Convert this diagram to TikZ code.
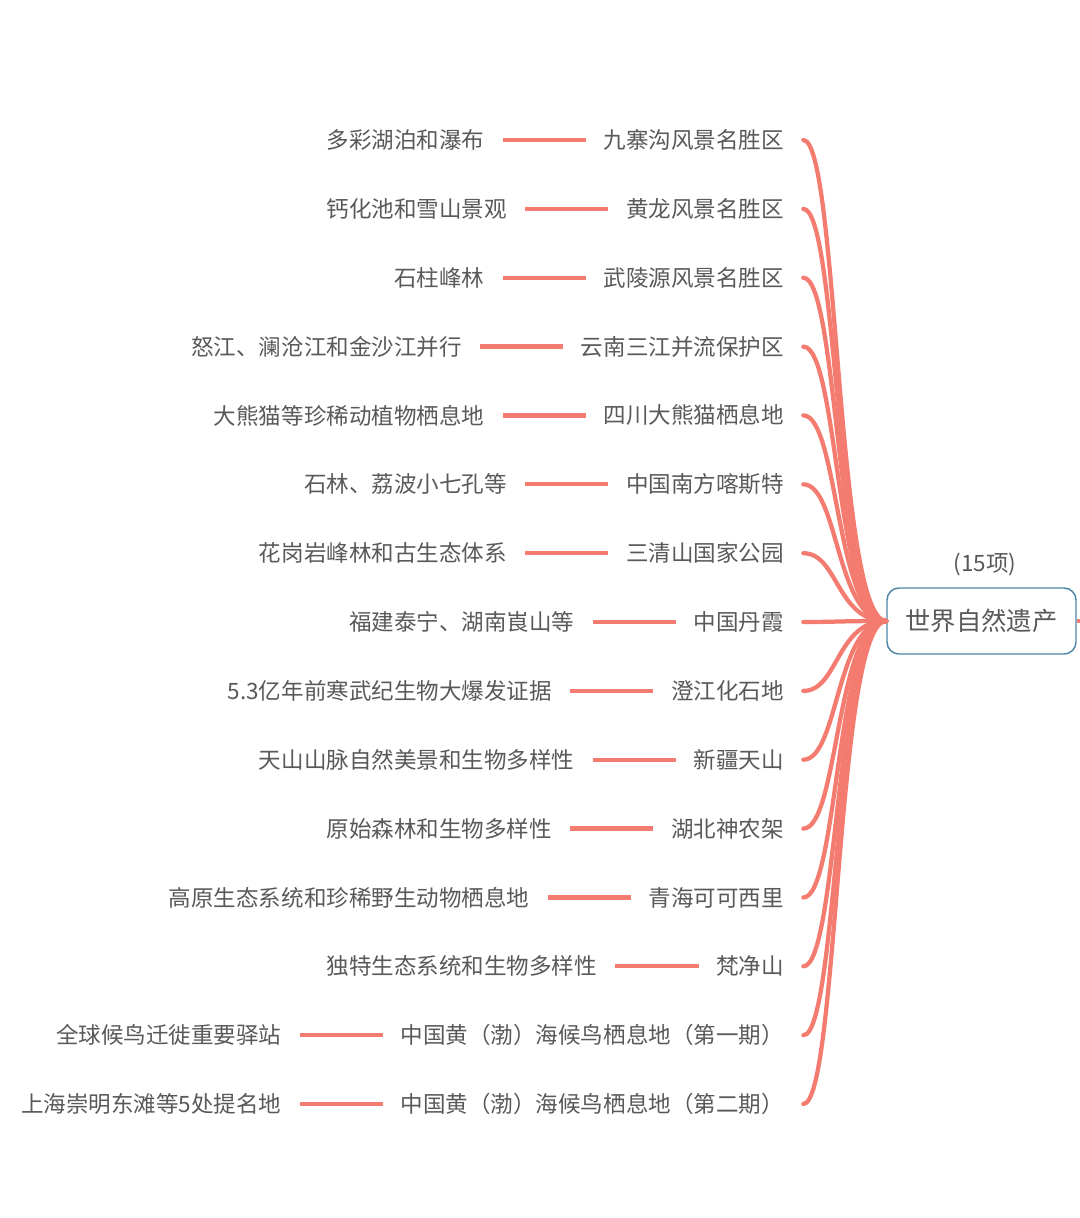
\documentclass[tikz,border=0pt]{standalone}
\usepackage{fontspec}
\setmainfont{Noto Sans CJK SC}
\usetikzlibrary{positioning}
\definecolor{linec}{HTML}{F47B6F}
\definecolor{txt}{HTML}{595959}
\definecolor{rootc}{HTML}{4F86A6}
\begin{document}
\begin{tikzpicture}[x=0.75pt,y=-0.75pt,
  lab/.style={font=\fontsize{16.9pt}{18pt}\selectfont, text=txt, inner sep=0pt},
  seg/.style={draw=linec, line width=3.2pt, shorten <=13.5pt, shorten >=13pt},
  br/.style={draw=linec, line width=3.2pt, line cap=round},
  rootbox/.style={draw=rootc, line width=1.1pt, fill=white, rounded corners=9pt,
    minimum width=141.75pt, minimum height=49.5pt, text=txt,
    font=\fontsize{19pt}{22pt}\selectfont}]
\fill[white] (0,0) rectangle (1080,1218);
\useasboundingbox (0,0) rectangle (1080,1218);

\node[rootbox] (root) at (981.5,621) {世界自然遗产};
\node[lab] (cnt) at (985,564) {(15项)};
\coordinate (rootout) at (1080,621);
\draw[br, line cap=butt] (root.east) -- (rootout);

\foreach \i/\y/\rt/\lt in {
  1/140/九寨沟风景名胜区/多彩湖泊和瀑布,
  2/208.9/黄龙风景名胜区/钙化池和雪山景观,
  3/277.7/武陵源风景名胜区/石柱峰林,
  4/346.6/云南三江并流保护区/怒江、澜沧江和金沙江并行,
  5/415.4/四川大熊猫栖息地/大熊猫等珍稀动植物栖息地,
  6/484.3/中国南方喀斯特/石林、荔波小七孔等,
  7/553.2/三清山国家公园/花岗岩峰林和古生态体系,
  8/622/中国丹霞/福建泰宁、湖南崀山等,
  9/690.9/澄江化石地/5.3亿年前寒武纪生物大爆发证据,
  10/759.7/新疆天山/天山山脉自然美景和生物多样性,
  11/828.6/湖北神农架/原始森林和生物多样性,
  12/897.5/青海可可西里/高原生态系统和珍稀野生动物栖息地,
  13/966.3/梵净山/独特生态系统和生物多样性,
  14/1035.2/中国黄（渤）海候鸟栖息地（第一期）/全球候鸟迁徙重要驿站,
  15/1104/中国黄（渤）海候鸟栖息地（第二期）/上海崇明东滩等5处提名地}
{
  \node[lab, anchor=east] (r\i) at (784,\y) {\rt};
  \node[lab, left=89pt of r\i] (l\i) {\lt};
  \draw[seg] (l\i.east) -- (r\i.west);
  \coordinate (e\i) at ([xshift=14.5pt]r\i.east);
  \draw[br] (e\i) .. controls +(35,0) and +(-50,0) .. (root.west);
}
\end{tikzpicture}
\end{document}
